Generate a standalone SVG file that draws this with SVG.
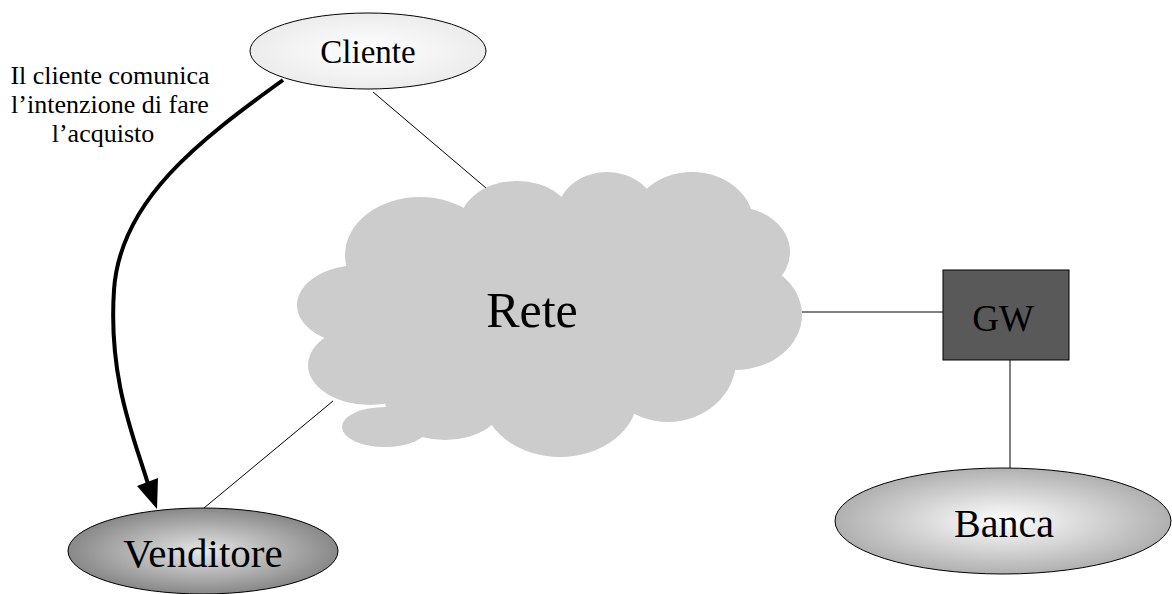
<svg xmlns="http://www.w3.org/2000/svg" width="1172" height="594" viewBox="0 0 1172 594">
<style>
text{font-family:"Liberation Serif","Times New Roman",serif;fill:#000;text-anchor:middle}
.thin{stroke:#000;stroke-width:1;fill:none}
.node{stroke:#000;stroke-width:1}
.cloud ellipse{fill:#cccccc}
</style>
<defs>
<radialGradient id="gV" cx="50%" cy="50%" r="50%">
<stop offset="0" stop-color="#e6e6e6"/><stop offset="1" stop-color="#888888"/>
</radialGradient>
<radialGradient id="gB" cx="50%" cy="50%" r="50%">
<stop offset="0" stop-color="#ffffff"/><stop offset="1" stop-color="#b0b0b0"/>
</radialGradient>
<radialGradient id="gC" cx="50%" cy="50%" r="50%">
<stop offset="0" stop-color="#ffffff"/><stop offset="1" stop-color="#ececec"/>
</radialGradient>
</defs>
<g id="connectors">
<line class="thin" x1="373" y1="92" x2="486" y2="188"/>
<line class="thin" x1="333" y1="401" x2="204" y2="508"/>
<line class="thin" x1="802" y1="312" x2="943" y2="312"/>
<line class="thin" x1="1010" y1="360" x2="1010" y2="468"/>
<path d="M283,80 C200,140 120,200 114,290 C108,380 135,440 148,484" fill="none" stroke="#000" stroke-width="4"/>
<polygon points="157,509 137,486 158,478" fill="#000"/>
</g>
<g id="rete" class="cloud">
<ellipse cx="420" cy="255" rx="75" ry="58"/>
<ellipse cx="517" cy="225" rx="58" ry="44"/>
<ellipse cx="607" cy="215" rx="50" ry="43"/>
<ellipse cx="692" cy="225" rx="62" ry="53"/>
<ellipse cx="735" cy="252" rx="55" ry="45"/>
<ellipse cx="735" cy="315" rx="67" ry="55"/>
<ellipse cx="668" cy="360" rx="68" ry="62"/>
<ellipse cx="560" cy="395" rx="78" ry="62"/>
<ellipse cx="385" cy="427" rx="43" ry="20"/>
<ellipse cx="445" cy="400" rx="60" ry="40"/>
<ellipse cx="370" cy="365" rx="62" ry="40"/>
<ellipse cx="360" cy="305" rx="63" ry="40"/>
<ellipse cx="550" cy="310" rx="200" ry="100"/>
<text x="532" y="327" font-size="50">Rete</text>
</g>
<g id="cliente">
<ellipse class="node" cx="368" cy="51" rx="118" ry="38" fill="url(#gC)"/>
<text x="368" y="63" font-size="33">Cliente</text>
</g>
<g id="label">
<text x="110" y="84" font-size="26">Il cliente comunica</text>
<text x="110" y="113" font-size="26">l’intenzione di fare</text>
<text x="103" y="142" font-size="26">l’acquisto</text>
</g>
<g id="venditore">
<ellipse class="node" cx="203" cy="551" rx="135" ry="43" fill="url(#gV)"/>
<text x="203" y="567" font-size="41">Venditore</text>
</g>
<g id="gw">
<rect class="node" x="943" y="270" width="126" height="90" fill="#595959"/>
<text x="1003" y="331" font-size="37" fill="#1a1a1a">GW</text>
</g>
<g id="banca">
<ellipse class="node" cx="1003" cy="521" rx="168" ry="53" fill="url(#gB)"/>
<text x="1004" y="537" font-size="40">Banca</text>
</g>
</svg>
